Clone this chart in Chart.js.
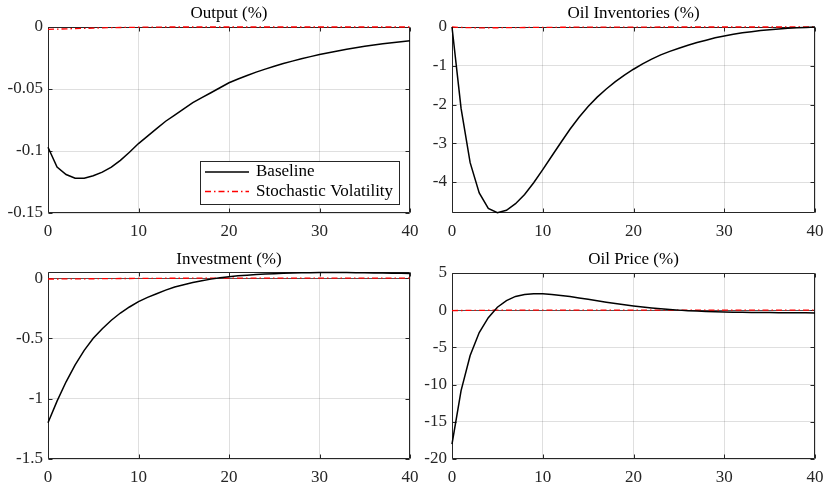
<!DOCTYPE html>
<html>
<head>
<meta charset="utf-8">
<script src="https://cdn.jsdelivr.net/npm/chart.js"></script>
<style>
  html, body { margin: 0; padding: 0; background: #fff; }
  #wrap { position: relative; width: 824px; height: 482px; overflow: hidden; }
  .panel { position: absolute; }
</style>
</head>
<body>
<div id="wrap">
  <div class="panel" style="left:0;top:0;width:430px;height:240px"><canvas id="cOutput"></canvas></div>
  <div class="panel" style="left:410px;top:0;width:425px;height:240px"><canvas id="cInv"></canvas></div>
  <div class="panel" style="left:0;top:240px;width:430px;height:242px"><canvas id="cInvest"></canvas></div>
  <div class="panel" style="left:410px;top:240px;width:425px;height:242px"><canvas id="cPrice"></canvas></div>
</div>
<script>
// horizon (quarters)
var periods = [0,1,2,3,4,5,6,7,8,9,10,11,12,13,14,15,16,17,18,19,20,
               21,22,23,24,25,26,27,28,29,30,31,32,33,34,35,36,37,38,39,40];
var xTicks = [0, 10, 20, 30, 40];

// Output (%)
var outputBase = [-0.097,-0.113,-0.119,-0.122,-0.122,-0.120,-0.117,-0.113,-0.1075,-0.101,
                  -0.094,-0.088,-0.082,-0.076,-0.071,-0.066,-0.061,-0.057,-0.053,-0.049,
                  -0.045,-0.0419,-0.0391,-0.0364,-0.034,-0.0316,-0.0295,-0.0275,-0.0256,-0.0239,
                  -0.0222,-0.0207,-0.0193,-0.018,-0.0168,-0.0156,-0.0146,-0.0136,-0.0127,-0.0118,-0.011];
var outputSV = [-0.0019,-0.0017,-0.0015,-0.0013,-0.0011,-0.0009,-0.0007,-0.0005,-0.0004,-0.0003,
                -0.0002,-0.0001,-0.0001,0,0,0,0,0,0,0,
                0,0,0,0,0,0,0,0,0,0,
                0,0,0,0,0,0,0,0,0,0,0];
var outputTicks = [-0.15, -0.1, -0.05, 0];

// Oil Inventories (%)
var invBase = [0,-2.10,-3.50,-4.28,-4.68,-4.79,-4.73,-4.56,-4.32,-4.02,
               -3.68,-3.33,-2.98,-2.64,-2.33,-2.05,-1.81,-1.60,-1.41,-1.24,
               -1.09,-0.95,-0.83,-0.72,-0.63,-0.55,-0.47,-0.40,-0.34,-0.28,
               -0.23,-0.19,-0.15,-0.12,-0.09,-0.07,-0.05,-0.03,-0.02,-0.01,0];
var invSV = [0,-0.012,-0.018,-0.02,-0.02,-0.019,-0.017,-0.015,-0.013,-0.011,
             -0.009,-0.008,-0.007,-0.006,-0.005,-0.004,-0.003,-0.003,-0.002,-0.002,
             -0.001,-0.001,-0.001,0,0,0,0,0,0,0,
             0,0,0,0,0,0,0,0,0,0,0];
var invTicks = [-4, -3, -2, -1, 0];

// Investment (%)
var investBase = [-1.20,-1.02,-0.86,-0.72,-0.60,-0.50,-0.42,-0.35,-0.29,-0.24,
                  -0.195,-0.16,-0.13,-0.10,-0.075,-0.055,-0.037,-0.022,-0.009,0.002,
                  0.011,0.018,0.024,0.029,0.033,0.036,0.039,0.041,0.043,0.044,
                  0.045,0.045,0.045,0.045,0.044,0.043,0.042,0.041,0.040,0.039,0.038];
var investSV = [-0.008,-0.008,-0.007,-0.007,-0.006,-0.006,-0.005,-0.005,-0.004,-0.004,
                -0.003,-0.003,-0.003,-0.002,-0.002,-0.002,-0.001,-0.001,-0.001,-0.001,
                0,0,0,0,0,0,0,0,0,0,
                0,0,0,0,0,0,0,0,0,0,0];
var investTicks = [-1.5, -1, -0.5, 0];

// Oil Price (%)
var priceBase = [-18.0,-10.8,-6.1,-3.0,-1.0,0.4,1.3,1.85,2.1,2.2,
                 2.20,2.12,1.99,1.83,1.65,1.46,1.27,1.08,0.90,0.73,
                 0.57,0.43,0.30,0.19,0.09,0.01,-0.06,-0.12,-0.17,-0.21,
                 -0.24,-0.26,-0.28,-0.30,-0.31,-0.32,-0.33,-0.34,-0.35,-0.35,-0.36];
var priceSV = [-0.05,-0.04,-0.03,-0.02,-0.01,0,0.01,0.01,0.01,0.01,
               0.01,0,0,0,0,0,0,0,0,0,
               0,0,0,0,0,0,0,0,0,0,
               0,0,0,0,0,0,0,0,0,0,0];
var priceTicks = [-20, -15, -10, -5, 0, 5];

var FONT = '"Liberation Serif", "Times New Roman", serif';
var AXIS_COLOR = '#262626';

function pts(vals) {
  return periods.map(function(p, i) { return { x: p, y: vals[i] }; });
}

function fmt(v) {
  var r = Math.round(v * 1000) / 1000;
  if (r === 0) return '0';
  return String(r);
}

// MATLAB-like box (drawn under the data), inward ticks, zero line and title
var boxPlugin = {
  id: 'matlabBox',
  beforeDatasetsDraw: function(chart) {
    var a = chart.chartArea, ctx = chart.ctx;
    var L = Math.round(a.left) + 0.5, R = Math.round(a.right) - 0.5;
    var T = Math.round(a.top) + 0.5, B = Math.round(a.bottom) - 0.5;
    var len = 4;
    ctx.save();
    var y0 = Math.round(chart.scales.y.getPixelForValue(0)) + 0.5;
    if (y0 > a.top + 1 && y0 < a.bottom - 1) {
      ctx.strokeStyle = '#555';
      ctx.lineWidth = 1;
      ctx.beginPath();
      ctx.moveTo(a.left, y0);
      ctx.lineTo(a.right, y0);
      ctx.stroke();
    }
    ctx.strokeStyle = AXIS_COLOR;
    ctx.lineWidth = 1;
    ctx.beginPath();
    ctx.rect(L, T, R - L, B - T);
    chart.scales.x.ticks.forEach(function(t) {
      var px = Math.round(chart.scales.x.getPixelForValue(t.value)) + 0.5;
      ctx.moveTo(px, B); ctx.lineTo(px, B - len);
      ctx.moveTo(px, T); ctx.lineTo(px, T + len);
    });
    chart.scales.y.ticks.forEach(function(t) {
      var py = Math.round(chart.scales.y.getPixelForValue(t.value)) + 0.5;
      ctx.moveTo(L, py); ctx.lineTo(L + len, py);
      ctx.moveTo(R, py); ctx.lineTo(R - len, py);
    });
    ctx.stroke();

    // panel title, centred over the axes
    var ttl = chart.options.plugins.boxTitle;
    ctx.fillStyle = '#000';
    ctx.font = '17px ' + FONT;
    ctx.textAlign = 'center';
    ctx.textBaseline = 'middle';
    ctx.fillText(ttl.text, (a.left + a.right) / 2, ttl.y);
    ctx.restore();
  }
};

// legend box drawn inside the Output panel, bottom right
var legendPlugin = {
  id: 'boxLegend',
  afterDraw: function(chart) {
    if (!chart.options.plugins.boxLegend || !chart.options.plugins.boxLegend.show) return;
    var a = chart.chartArea, ctx = chart.ctx;
    var items = chart.data.datasets;
    ctx.save();
    ctx.font = '17px ' + FONT;
    var tw = 0;
    items.forEach(function(d) { tw = Math.max(tw, ctx.measureText(d.label).width); });
    var w = Math.round(5 + 44 + 6 + tw + 7), h = 43;
    var right = Math.round(a.right) - 11, bottom = Math.round(a.bottom) - 9;
    var x = right - w, y = bottom - h;
    ctx.fillStyle = '#fff';
    ctx.fillRect(x, y, w, h);
    ctx.strokeStyle = AXIS_COLOR;
    ctx.lineWidth = 1;
    ctx.strokeRect(x + 0.5, y + 0.5, w, h);
    items.forEach(function(d, i) {
      var cy = y + 11 + i * 19.5;
      ctx.beginPath();
      ctx.strokeStyle = d.borderColor;
      ctx.lineWidth = d.borderWidth;
      ctx.setLineDash(d.borderDash || []);
      ctx.moveTo(x + 5, cy);
      ctx.lineTo(x + 49, cy);
      ctx.stroke();
      ctx.setLineDash([]);
      ctx.fillStyle = '#000';
      ctx.textBaseline = 'middle';
      ctx.fillText(d.label, x + 56, cy);
    });
    ctx.restore();
  }
};

function makeChart(id, opt) {
  var ctx = document.getElementById(id).getContext('2d');
  return new Chart(ctx, {
    type: 'line',
    data: {
      datasets: [
        {
          label: 'Baseline',
          data: pts(opt.base),
          borderColor: '#000',
          borderWidth: 1.5,
          pointRadius: 0,
          tension: 0,
          fill: false,
          clip: 2
        },
        {
          label: 'Stochastic Volatility',
          data: pts(opt.sv),
          borderColor: '#ff0000',
          borderWidth: 1.3,
          borderDash: [6, 3, 1.5, 3],
          pointRadius: 0,
          tension: 0,
          fill: false,
          clip: 2
        }
      ]
    },
    options: {
      responsive: true,
      maintainAspectRatio: false,
      animation: false,
      layout: { padding: { right: 20, left: 0, bottom: 0, top: opt.padTop } },
      plugins: {
        legend: { display: false },
        tooltip: { enabled: false },
        title: { display: false },
        boxTitle: { text: opt.title, y: opt.titleY },
        boxLegend: { show: !!opt.legend }
      },
      scales: {
        x: {
          type: 'linear',
          min: 0,
          max: 40,
          afterBuildTicks: function(s) { s.ticks = xTicks.map(function(v) { return { value: v }; }); },
          afterFit: function(s) { s.height = opt.xHeight; },
          grid: { color: 'rgba(38,38,38,0.15)', lineWidth: 1, drawTicks: false },
          border: { display: false },
          ticks: {
            color: AXIS_COLOR,
            padding: 8,
            autoSkip: false,
            maxRotation: 0,
            font: { family: FONT, size: 17 },
            callback: function(v) { return fmt(v); }
          }
        },
        y: {
          type: 'linear',
          min: opt.min,
          max: opt.max,
          afterBuildTicks: function(s) { s.ticks = opt.ticks.map(function(v) { return { value: v }; }); },
          afterFit: function(s) { s.width = opt.yWidth; },
          grid: { color: 'rgba(38,38,38,0.15)', lineWidth: 1, drawTicks: false },
          border: { display: false },
          ticks: {
            color: AXIS_COLOR,
            padding: 5,
            autoSkip: false,
            font: { family: FONT, size: 17 },
            callback: function(v) { return fmt(v); }
          }
        }
      }
    },
    plugins: [boxPlugin, legendPlugin]
  });
}

makeChart('cOutput', {
  title: 'Output (%)', base: outputBase, sv: outputSV, ticks: outputTicks,
  min: -0.15, max: 0, yWidth: 48, padTop: 27, titleY: 14, xHeight: 27, legend: true
});
makeChart('cInv', {
  title: 'Oil Inventories (%)', base: invBase, sv: invSV, ticks: invTicks,
  min: -4.8, max: 0, yWidth: 42, padTop: 27, titleY: 14, xHeight: 27
});
makeChart('cInvest', {
  title: 'Investment (%)', base: investBase, sv: investSV, ticks: investTicks,
  min: -1.5, max: 0.05, yWidth: 48, padTop: 32, titleY: 20, xHeight: 23
});
makeChart('cPrice', {
  title: 'Oil Price (%)', base: priceBase, sv: priceSV, ticks: priceTicks,
  min: -20, max: 5, yWidth: 42, padTop: 33, titleY: 20, xHeight: 23
});
</script>
</body>
</html>
